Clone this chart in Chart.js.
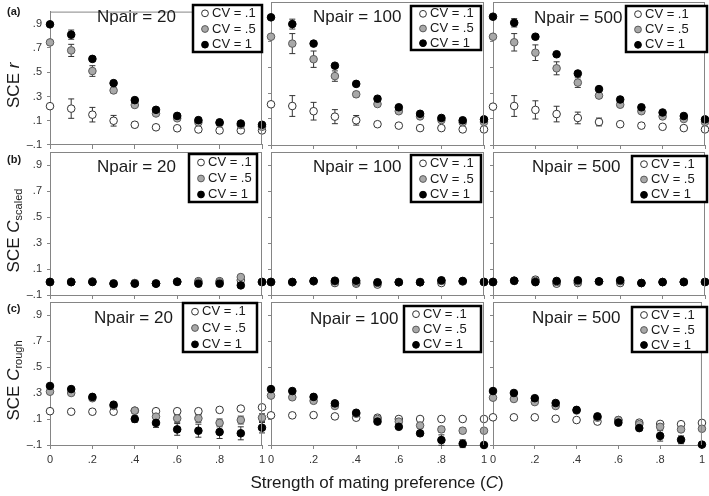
<!DOCTYPE html>
<html>
<head>
<meta charset="utf-8">
<script src="https://cdn.jsdelivr.net/npm/chart.js@4.4.1/dist/chart.umd.min.js"></script>
<style>
  html, body { margin: 0; padding: 0; background: #fff; }
  #wrap { position: relative; width: 709px; height: 496px; overflow: hidden; }
  #wrap canvas { position: absolute; left: 0; top: 0; }
</style>
</head>
<body>
<div id="wrap"></div>
<script>
const cValues = [0, 0.1, 0.2, 0.3, 0.4, 0.5, 0.6, 0.7, 0.8, 0.9, 1];
const xTickValues = [0, 0.2, 0.4, 0.6, 0.8, 1];
const xTickLabels = ["0", ".2", ".4", ".6", ".8", "1"];
const yTickValues = [-0.1, 0.1, 0.3, 0.5, 0.7, 0.9];
const yTickLabels = ["\u2013.1", ".1", ".3", ".5", ".7", ".9"];
const cvLabels = ["CV = .1", "CV = .5", "CV = 1"];
const npairLabels = ["Npair = 20", "Npair = 100", "Npair = 500"];
const panelLetters = ["(a)", "(b)", "(c)"];

// (a) SCE r
const rN20Cv01 = [0.22, 0.20, 0.15, 0.10, 0.067, 0.046, 0.038, 0.028, 0.02, 0.02, 0.02];
const rN20Cv05 = [0.746, 0.68, 0.51, 0.35, 0.23, 0.16, 0.12, 0.087, 0.08, 0.065, 0.05];
const rN20Cv1 = [0.895, 0.81, 0.61, 0.41, 0.27, 0.19, 0.14, 0.105, 0.087, 0.077, 0.067];
const rN100Cv01 = [0.213, 0.20, 0.16, 0.118, 0.09, 0.06, 0.049, 0.03, 0.03, 0.02, 0.02];
const rN100Cv05 = [0.733, 0.68, 0.56, 0.43, 0.29, 0.215, 0.16, 0.12, 0.092, 0.075, 0.077];
const rN100Cv1 = [0.882, 0.83, 0.68, 0.51, 0.37, 0.256, 0.19, 0.14, 0.108, 0.09, 0.097];
const rN500Cv01 = [0.195, 0.20, 0.17, 0.138, 0.108, 0.077, 0.06, 0.049, 0.04, 0.03, 0.02];
const rN500Cv05 = [0.733, 0.69, 0.61, 0.49, 0.38, 0.28, 0.21, 0.16, 0.12, 0.10, 0.077];
const rN500Cv1 = [0.887, 0.84, 0.733, 0.598, 0.45, 0.33, 0.25, 0.19, 0.15, 0.123, 0.097];
const rN20Cv01Err = [0, 0.08, 0.06, 0.044, 0.02, 0, 0, 0, 0, 0, 0];
const rN20Cv05Err = [0, 0.05, 0.044, 0.02, 0.01, 0, 0, 0, 0, 0, 0];
const rN20Cv1Err = [0, 0.038, 0.015, 0, 0, 0, 0, 0, 0, 0, 0];
const rN100Cv01Err = [0, 0.08, 0.068, 0.054, 0.037, 0.015, 0, 0, 0, 0, 0];
const rN100Cv05Err = [0, 0.077, 0.063, 0.04, 0.02, 0.01, 0, 0, 0, 0, 0];
const rN100Cv1Err = [0, 0.038, 0.015, 0, 0, 0, 0, 0, 0, 0, 0];
const rN500Cv01Err = [0, 0.08, 0.07, 0.06, 0.045, 0.03, 0.01, 0, 0, 0, 0];
const rN500Cv05Err = [0, 0.067, 0.06, 0.05, 0.037, 0.02, 0.015, 0.01, 0, 0, 0];
const rN500Cv1Err = [0, 0.032, 0.015, 0.01, 0, 0, 0, 0, 0, 0, 0];

// (b) SCE C scaled
const sN20Cv01 = [0, 0.002, 0.004, -0.01, -0.008, -0.01, 0.003, 0.006, 0.006, 0.014, 0];
const sN20Cv05 = [0, 0, 0.002, -0.012, -0.01, -0.012, 0.002, -0.003, -0.003, 0.038, 0];
const sN20Cv1 = [0, -0.001, 0, -0.013, -0.013, -0.013, 0.001, -0.013, -0.013, -0.026, 0];
const sN100Cv01 = [0, -0.002, 0.005, -0.008, -0.013, -0.02, -0.002, -0.002, -0.008, 0.004, 0];
const sN100Cv05 = [0, 0, 0.007, 0.004, -0.004, -0.008, 0, 0, 0.008, 0.006, 0];
const sN100Cv1 = [0, 0, 0.008, 0.01, 0.01, -0.002, -0.002, -0.002, 0.013, 0.008, 0];
const sN500Cv01 = [0, 0.008, 0.018, -0.013, -0.008, 0.002, -0.008, -0.008, 0, 0.002, 0];
const sN500Cv05 = [0, 0.01, 0.008, 0, 0.004, 0.004, 0.006, -0.008, 0, 0, 0];
const sN500Cv1 = [0, 0.01, -0.001, 0.008, 0.013, 0.005, 0.013, -0.008, -0.001, -0.001, 0];

// (c) SCE C rough
const gN20Cv01 = [0.16, 0.156, 0.156, 0.156, 0.164, 0.16, 0.16, 0.16, 0.17, 0.18, 0.19];
const gN20Cv05 = [0.31, 0.30, 0.26, 0.20, 0.164, 0.118, 0.105, 0.105, 0.07, 0.092, 0.11];
const gN20Cv1 = [0.354, 0.33, 0.27, 0.21, 0.10, 0.07, 0.02, 0.01, 0.0, -0.01, 0.033];
const gN100Cv01 = [0.128, 0.128, 0.13, 0.12, 0.11, 0.11, 0.10, 0.10, 0.10, 0.10, 0.10];
const gN100Cv05 = [0.28, 0.267, 0.24, 0.20, 0.14, 0.10, 0.08, 0.05, 0.02, 0.01, 0.01];
const gN100Cv1 = [0.33, 0.315, 0.27, 0.22, 0.148, 0.08, 0.04, -0.01, -0.062, -0.09, -0.1];
const gN500Cv01 = [0.113, 0.113, 0.113, 0.102, 0.092, 0.08, 0.092, 0.072, 0.062, 0.06, 0.07];
const gN500Cv05 = [0.264, 0.254, 0.23, 0.20, 0.165, 0.11, 0.092, 0.06, 0.04, 0.02, 0.025];
const gN500Cv1 = [0.315, 0.30, 0.26, 0.223, 0.17, 0.12, 0.072, 0.03, -0.03, -0.06, -0.097];
const gN20Cv01Err = [0, 0, 0, 0, 0, 0.01, 0.01, 0.01, 0.015, 0.015, 0.015];
const gN20Cv05Err = [0, 0, 0, 0, 0, 0.02, 0.03, 0.03, 0.03, 0.03, 0.03];
const gN20Cv1Err = [0, 0, 0.01, 0.01, 0.025, 0.035, 0.045, 0.05, 0.05, 0.05, 0.04];
const gN100Cv01Err = [0, 0, 0, 0, 0, 0, 0, 0.01, 0.01, 0.01, 0.01];
const gN100Cv05Err = [0, 0, 0, 0, 0, 0, 0.01, 0.02, 0.02, 0.02, 0.015];
const gN100Cv1Err = [0, 0, 0, 0, 0, 0, 0.01, 0.02, 0.04, 0.03, 0.01];
const gN500Cv01Err = [0, 0, 0, 0, 0, 0, 0, 0.01, 0.01, 0.01, 0.01];
const gN500Cv05Err = [0, 0, 0, 0, 0, 0, 0, 0.015, 0.015, 0.015, 0.015];
const gN500Cv1Err = [0, 0, 0, 0, 0, 0, 0, 0.02, 0.04, 0.03, 0];

const zeros = cValues.map(() => 0);

// panel grid: [row][col] -> three series (CV .1, .5, 1)
const panelSeries = [
  [[rN20Cv01, rN20Cv05, rN20Cv1], [rN100Cv01, rN100Cv05, rN100Cv1], [rN500Cv01, rN500Cv05, rN500Cv1]],
  [[sN20Cv01, sN20Cv05, sN20Cv1], [sN100Cv01, sN100Cv05, sN100Cv1], [sN500Cv01, sN500Cv05, sN500Cv1]],
  [[gN20Cv01, gN20Cv05, gN20Cv1], [gN100Cv01, gN100Cv05, gN100Cv1], [gN500Cv01, gN500Cv05, gN500Cv1]],
];
const panelErrors = [
  [[rN20Cv01Err, rN20Cv05Err, rN20Cv1Err], [rN100Cv01Err, rN100Cv05Err, rN100Cv1Err], [rN500Cv01Err, rN500Cv05Err, rN500Cv1Err]],
  [[zeros, zeros, zeros], [zeros, zeros, zeros], [zeros, zeros, zeros]],
  [[gN20Cv01Err, gN20Cv05Err, gN20Cv1Err], [gN100Cv01Err, gN100Cv05Err, gN100Cv1Err], [gN500Cv01Err, gN500Cv05Err, gN500Cv1Err]],
];

// layout (pixels)
const W = 709, H = 496;
const COLS = [[50, 262], [271, 484], [493, 705]];
const ROWS = [[2, 145], [152, 295], [302, 445]];
const legendBoxes = [
  [[193, 5, 262, 52], [411, 6, 481, 50], [626, 6, 707, 52]],
  [[189, 154, 257, 202], [411, 155, 481, 202], [632, 156, 707, 202]],
  [[183, 303, 257, 352], [404, 306, 481, 352], [632, 307, 707, 352]],
];
const titlePos = [
  [[97, 22], [313, 22], [534, 23]],
  [[97, 172], [313, 172], [532, 172]],
  [[94, 323], [310, 324], [532, 323]],
];

const FONT = "'Liberation Sans', Arial, sans-serif";
const AXIS_GRAY = "#858585";
const markerStyles = [
  { bg: "#ffffff", border: "#333333" },
  { bg: "#a8a8a8", border: "#5a5a5a" },
  { bg: "#000000", border: "#000000" },
];

const errorBars = {
  id: "errorBars",
  beforeDatasetsDraw(chart) {
    const { ctx, scales } = chart;
    ctx.save();
    ctx.strokeStyle = "#333";
    ctx.lineWidth = 1;
    chart.data.datasets.forEach((ds) => {
      ds.data.forEach((p, i) => {
        const e = ds.errors[i];
        if (!e) return;
        const x = scales.x.getPixelForValue(p.x);
        const y1 = scales.y.getPixelForValue(p.y - e);
        const y2 = scales.y.getPixelForValue(p.y + e);
        ctx.beginPath();
        ctx.moveTo(x, y1); ctx.lineTo(x, y2);
        ctx.moveTo(x - 3, y1); ctx.lineTo(x + 3, y1);
        ctx.moveTo(x - 3, y2); ctx.lineTo(x + 3, y2);
        ctx.stroke();
      });
    });
    ctx.restore();
  },
};

function drawRich(ctx, parts, align) {
  // parts: [{t, font, dy}]
  let total = 0;
  parts.forEach((p) => { ctx.font = p.font; p.w = ctx.measureText(p.t).width; total += p.w; });
  let x = align === "center" ? -total / 2 : 0;
  parts.forEach((p) => {
    ctx.font = p.font;
    ctx.fillText(p.t, x, p.dy || 0);
    x += p.w;
  });
}

const panelDecor = {
  id: "panelDecor",
  afterDraw(chart, args, o) {
    const { ctx, chartArea: a } = chart;
    ctx.save();
    // top and right frame
    ctx.strokeStyle = AXIS_GRAY;
    ctx.lineWidth = 1;
    ctx.beginPath();
    ctx.moveTo(a.left, a.top + 0.5); ctx.lineTo(a.right, a.top + 0.5);
    ctx.moveTo(a.right - 0.5, a.top); ctx.lineTo(a.right - 0.5, a.bottom);
    ctx.stroke();

    // Npair title
    ctx.fillStyle = "#1a1a1a";
    ctx.font = "17px " + FONT;
    ctx.textAlign = "left";
    ctx.textBaseline = "alphabetic";
    ctx.fillText(o.title, o.titleX, o.titleY);

    // legend box
    const [l, t, r, b] = o.box;
    ctx.fillStyle = "#fff";
    ctx.fillRect(l, t, r - l, b - t);
    ctx.strokeStyle = "#000";
    ctx.lineWidth = 2.5;
    ctx.strokeRect(l, t, r - l, b - t);
    const step = (b - t) / 3;
    ctx.font = "13px " + FONT;
    ctx.textBaseline = "middle";
    cvLabels.forEach((lab, i) => {
      const cy = t + step * (i + 0.5) + 0.5;
      ctx.beginPath();
      ctx.arc(l + 12, cy, 3.4, 0, Math.PI * 2);
      ctx.fillStyle = markerStyles[i].bg;
      ctx.fill();
      ctx.lineWidth = 1;
      ctx.strokeStyle = markerStyles[i].border;
      ctx.stroke();
      ctx.fillStyle = "#1a1a1a";
      ctx.fillText(lab, l + 19, cy);
    });

    if (o.yTitle) {
      ctx.fillStyle = "#1a1a1a";
      ctx.textBaseline = "alphabetic";
      ctx.font = "bold 11px " + FONT;
      ctx.fillText(o.letter, 7, o.letterY);
      ctx.save();
      ctx.translate(19, (a.top + a.bottom) / 2 + 7);
      ctx.rotate(-Math.PI / 2);
      drawRich(ctx, o.yTitle, "center");
      ctx.restore();
    }
    if (o.xTitle) {
      ctx.fillStyle = "#1a1a1a";
      ctx.textBaseline = "alphabetic";
      ctx.save();
      ctx.translate(377, 488);
      drawRich(ctx, [
        { t: "Strength of mating preference (", font: "17px " + FONT },
        { t: "C", font: "italic 17px " + FONT },
        { t: ")", font: "17px " + FONT },
      ], "center");
      ctx.restore();
    }
    ctx.restore();
  },
};

const yTitles = [
  [{ t: "SCE ", font: "17px " + FONT }, { t: "r", font: "italic 17px " + FONT }],
  [{ t: "SCE ", font: "17px " + FONT }, { t: "C", font: "italic 17px " + FONT }, { t: "scaled", font: "11px " + FONT, dy: 3 }],
  [{ t: "SCE ", font: "17px " + FONT }, { t: "C", font: "italic 17px " + FONT }, { t: "rough", font: "11px " + FONT, dy: 3 }],
];
const letterY = [15, 163, 312];

const wrap = document.getElementById("wrap");

function makePanel(row, col) {
  const canvas = document.createElement("canvas");
  canvas.width = W;
  canvas.height = H;
  wrap.appendChild(canvas);

  const [x0, x1] = COLS[col];
  const [yt, yb] = ROWS[row];
  const leftCol = col === 0;
  const bottomRow = row === 2;
  const yW = leftCol ? 30 : 4;
  const xH = bottomRow ? 22 : 4;

  const datasets = panelSeries[row][col].map((vals, i) => ({
    label: cvLabels[i],
    data: cValues.map((c, j) => ({ x: c, y: vals[j] })),
    errors: panelErrors[row][col][i],
    backgroundColor: markerStyles[i].bg,
    borderColor: markerStyles[i].border,
    borderWidth: 1,
    pointRadius: 3.8,
    order: 2 - i,
    clip: false,
  }));

  new Chart(canvas, {
    type: "scatter",
    data: { datasets },
    options: {
      responsive: false,
      animation: false,
      devicePixelRatio: 1,
      layout: {
        autoPadding: false,
        padding: { left: x0 - yW, right: W - x1, top: yt, bottom: H - yb - xH },
      },
      plugins: {
        legend: { display: false },
        tooltip: { enabled: false },
        panelDecor: {
          title: npairLabels[col],
          titleX: titlePos[row][col][0],
          titleY: titlePos[row][col][1],
          box: legendBoxes[row][col],
          yTitle: leftCol ? yTitles[row] : null,
          letter: panelLetters[row],
          letterY: letterY[row],
          xTitle: bottomRow && col === 1,
        },
      },
      scales: {
        x: {
          type: "linear",
          min: 0,
          max: 1,
          afterBuildTicks: (s) => { s.ticks = xTickValues.map((v) => ({ value: v })); },
          afterFit: (s) => { s.height = xH; },
          ticks: {
            display: bottomRow,
            autoSkip: false,
            maxRotation: 0,
            padding: 4,
            color: "#333",
            font: { family: FONT, size: 11 },
            callback: (v, i) => xTickLabels[i],
          },
          grid: { drawOnChartArea: false, tickLength: 4, color: AXIS_GRAY },
          border: { color: AXIS_GRAY, width: 1 },
        },
        y: {
          type: "linear",
          min: -0.1,
          max: 1.0,
          afterBuildTicks: (s) => { s.ticks = yTickValues.map((v) => ({ value: v })); },
          afterFit: (s) => { s.width = yW; },
          ticks: {
            display: leftCol,
            autoSkip: false,
            padding: 5,
            color: "#333",
            font: { family: FONT, size: 11 },
            callback: (v, i) => yTickLabels[i],
          },
          grid: { drawOnChartArea: false, tickLength: 3, color: AXIS_GRAY },
          border: { color: AXIS_GRAY, width: 1 },
        },
      },
    },
    plugins: [errorBars, panelDecor],
  });
}

for (let r = 0; r < 3; r++) {
  for (let c = 0; c < 3; c++) makePanel(r, c);
}
</script>
</body>
</html>
